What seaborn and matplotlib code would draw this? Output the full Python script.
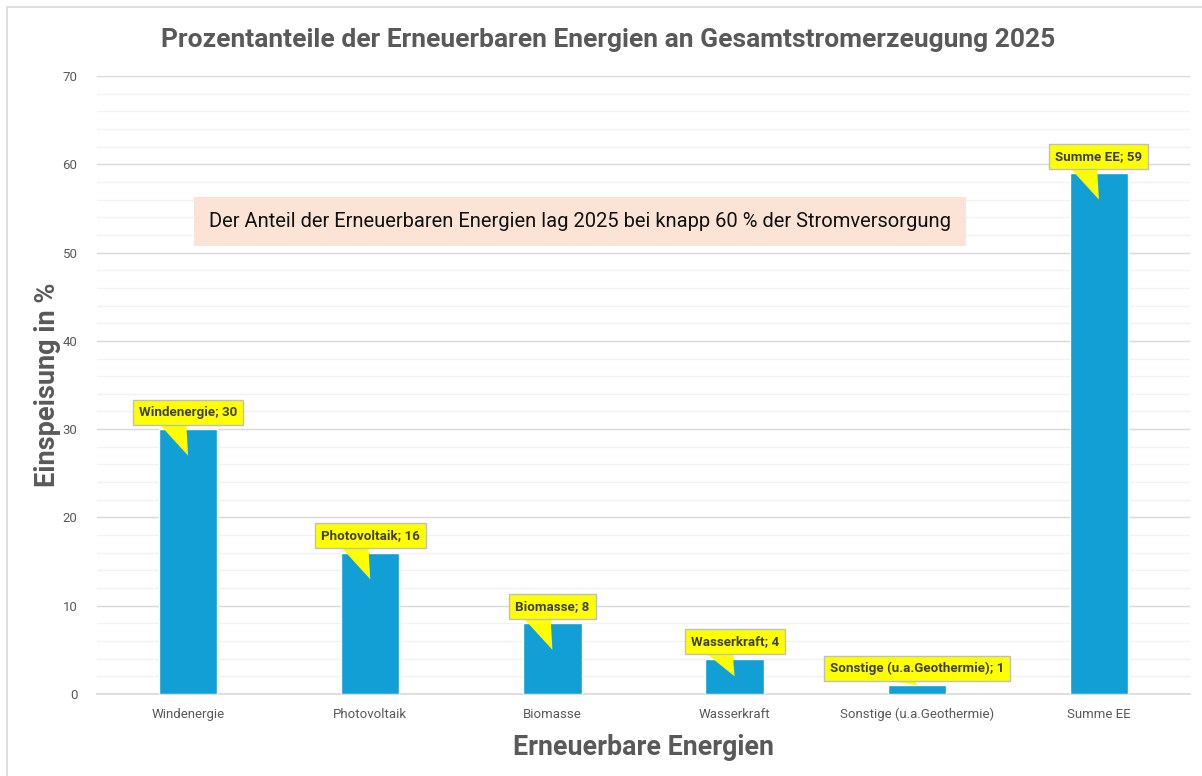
import matplotlib
matplotlib.use("Agg")
import matplotlib.pyplot as plt
import seaborn as sns
import pandas as pd
from matplotlib.lines import Line2D
from matplotlib.ticker import MultipleLocator

categories = ["Windenergie", "Photovoltaik", "Biomasse", "Wasserkraft",
              "Sonstige (u.a.Geothermie)", "Summe EE"]
values = [30, 16, 8, 4, 1, 59]

title = "Prozentanteile der Erneuerbaren Energien an Gesamtstromerzeugung 2025"
note = "Der Anteil der Erneuerbaren Energien lag 2025 bei knapp 60 % der Stromversorgung"
xlabel = "Erneuerbare Energien"
ylabel = "Einspeisung in %"

df = pd.DataFrame({"cat": categories, "val": values})

sns.set_theme(style="white")
plt.rcParams["font.family"] = ["Roboto", "DejaVu Sans"]

fig = plt.figure(figsize=(12.02, 7.76), dpi=100)
ax = fig.add_axes([97/1202, 1-694/776, (1190-97)/1202, (694-76)/776])

sns.barplot(data=df, x="cat", y="val", color="#129FD6", saturation=1,
            width=0.32, ax=ax, zorder=3)

ax.set_ylim(0, 70)
ax.set_xlim(-0.5, len(categories)-0.5)
ax.yaxis.set_major_locator(MultipleLocator(10))
ax.yaxis.set_minor_locator(MultipleLocator(2))
ax.grid(axis="y", which="major", color="#D9D9D9", lw=1, zorder=0)
ax.grid(axis="y", which="minor", color="#F2F2F2", lw=1, zorder=0)
ax.set_axisbelow(True)
for s in ["top", "right", "left"]:
    ax.spines[s].set_visible(False)
ax.spines["bottom"].set_color("#D9D9D9")
ax.spines["bottom"].set_linewidth(1.2)
ax.tick_params(axis="both", which="both", length=0, labelsize=9.5,
               labelcolor="#595959")
ax.tick_params(axis="y", pad=14)
ax.tick_params(axis="x", pad=10)

ax.set_xlabel(xlabel, fontsize=19.3, fontweight="bold", color="#595959", labelpad=9)
ax.set_ylabel(ylabel, fontsize=19.5, fontweight="bold", color="#595959", labelpad=1)

fig.text(608/1202, 1-40/776, title, ha="center", va="center",
         fontsize=19, fontweight="bold", color="#595959")

# callouts
for i, (c, v) in enumerate(zip(categories, values)):
    box_y = v + 1.9
    tip_y = v - min(3.0, 0.5*v)
    if v < 2:
        tip_y = v
    ax.annotate("", xy=(i, tip_y), xytext=(i-0.1, box_y),
                arrowprops=dict(arrowstyle="wedge,tail_width=2.4",
                                fc="#FFFF00", ec="none", shrinkA=0, shrinkB=0),
                fontsize=10, zorder=5, annotation_clip=False)
    ax.text(i, box_y, f"{c}; {v}", ha="center", va="center", fontsize=9.6,
            fontweight="bold", color="#404040", zorder=6,
            bbox=dict(boxstyle="square,pad=0.45", fc="#FFFF00", ec="#BFBFBF", lw=1))

ax.text(0.442, 0.764, note, transform=ax.transAxes, ha="center", va="center",
        fontsize=14.5, color="#111111", zorder=6,
        bbox=dict(boxstyle="square,pad=0.75", fc="#FBE4D6", ec="none"))

# chart border
fig.add_artist(Line2D([7/1202, 7/1202], [0, 1-7/776], color="#D9D9D9", lw=1.2))
fig.add_artist(Line2D([7/1202, 1], [1-7/776, 1-7/776], color="#D9D9D9", lw=1.2))

fig.savefig("out.png", dpi=100)
